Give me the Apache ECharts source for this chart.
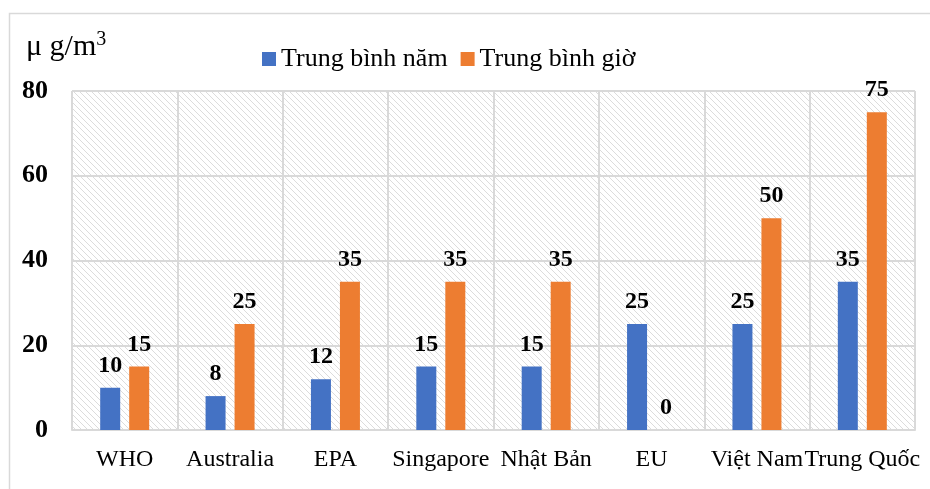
<!DOCTYPE html>
<html>
<head>
<meta charset="utf-8">
<script src="https://cdn.jsdelivr.net/npm/echarts@6/dist/echarts.min.js"></script>
<style>html,body{margin:0;padding:0;background:#fff;}#c{width:930px;height:489px;}</style>
</head>
<body>
<div id="c"></div>
<script>
const categories = ['WHO', 'Australia', 'EPA', 'Singapore', 'Nhật Bản', 'EU', 'Việt Nam', 'Trung Quốc'];
const annualValues = [10, 8, 12, 15, 15, 25, 25, 35];
const hourlyValues = [15, 25, 35, 35, 35, 0, 50, 75];
const seriesNames = ['Trung bình năm', 'Trung bình giờ'];
const yTicks = { min: 0, max: 80, interval: 20 };

function hatch() {
  const s = 6;
  const cv = document.createElement('canvas');
  cv.width = s; cv.height = s;
  const ctx = cv.getContext('2d');
  ctx.fillStyle = '#ffffff';
  ctx.fillRect(0, 0, s, s);
  ctx.strokeStyle = '#dcdcdc';
  ctx.lineWidth = 1;
  ctx.beginPath();
  ctx.moveTo(-1, -1); ctx.lineTo(s + 1, s + 1);
  ctx.moveTo(-1, s - 1); ctx.lineTo(1, s + 1);
  ctx.moveTo(s - 1, -1); ctx.lineTo(s + 1, 1);
  ctx.stroke();
  return cv;
}

const serif = '"Liberation Serif", "Times New Roman", serif';
const chart = echarts.init(document.getElementById('c'));
const labelStyle = {
  show: true, position: 'top', distance: 10,
  fontFamily: serif, fontWeight: 'bold', fontSize: 24, color: '#000'
};
chart.setOption({
  animation: false,
  graphic: [
    { type: 'rect', shape: { x: 9.5, y: 13.5, width: 940, height: 500 },
      style: { fill: 'none', stroke: '#d9d9d9', lineWidth: 1.5 }, z: -10 },
    { type: 'text', left: 26, top: 30,
      style: { text: '{a|μ g/m}{s|3}', rich: {
        a: { fontFamily: serif, fontSize: 30, color: '#000' },
        s: { fontFamily: serif, fontSize: 20, color: '#000', verticalAlign: 'top', padding: [0,0,14,0] }
      } } }
  ],
  legend: {
    left: 257, top: 41, itemWidth: 14, itemHeight: 14, itemGap: 13,
    icon: 'rect',
    textStyle: { fontFamily: serif, fontSize: 26, color: '#000' },
    data: seriesNames
  },
  grid: {
    left: 72, right: 15, top: 91, bottom: 59,
    show: true, borderWidth: 0,
    backgroundColor: { image: hatch(), repeat: 'repeat' }
  },
  xAxis: {
    type: 'category', data: categories,
    axisLine: { lineStyle: { color: '#d9d9d9', width: 2 } },
    axisTick: { show: false },
    splitLine: { show: true, interval: 0, lineStyle: { color: '#d9d9d9', width: 2 } },
    axisLabel: { interval: 0, margin: 18, fontFamily: serif, fontSize: 24, color: '#000' }
  },
  yAxis: {
    type: 'value', min: yTicks.min, max: yTicks.max, interval: yTicks.interval,
    axisLine: { show: false }, axisTick: { show: false },
    splitLine: { lineStyle: { color: '#d9d9d9', width: 2 } },
    axisLabel: { margin: 24, fontFamily: serif, fontWeight: 'bold', fontSize: 26, color: '#000' }
  },
  series: [
    { name: seriesNames[0], type: 'bar', data: annualValues, barWidth: 20, barGap: '45%',
      itemStyle: { color: '#4472c4' }, label: labelStyle },
    { name: seriesNames[1], type: 'bar', data: hourlyValues, barWidth: 20, barGap: '45%',
      itemStyle: { color: '#ed7d31' }, label: labelStyle }
  ]
});
</script>
</body>
</html>
